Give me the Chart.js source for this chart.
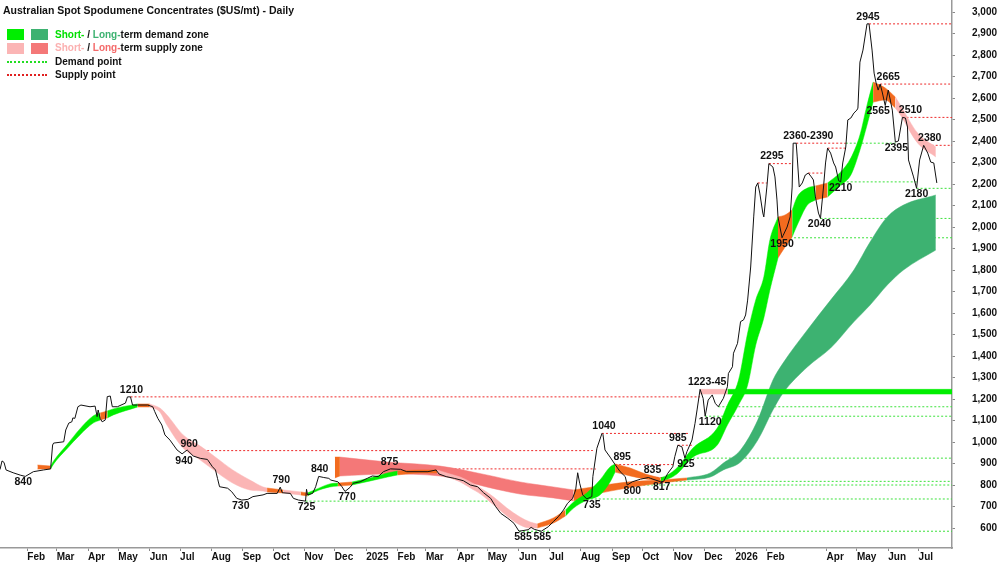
<!DOCTYPE html>
<html>
<head>
<meta charset="utf-8">
<script src="https://cdn.jsdelivr.net/npm/chart.js@4.4.1/dist/chart.umd.min.js"></script>
<style>
  html, body { margin: 0; padding: 0; background: #fff; }
  #wrap { position: relative; width: 1000px; height: 562px; font-family: "Liberation Sans", Arial, sans-serif; color: #111; }
  #chart { position: absolute; left: 0; top: 0; }
  .title { position: absolute; left: 3px; top: 4px; font-weight: bold; font-size: 10.5px; white-space: nowrap; }
  .row { position: absolute; left: 55px; font-weight: bold; font-size: 10px; line-height: 12px; white-space: nowrap; }
  .sw { position: absolute; width: 17px; height: 11px; }
  .dots { position: absolute; left: 7px; width: 40px; height: 0; border-top: 2px dotted; }
</style>
</head>
<body>
<div id="wrap">
  <canvas id="chart" width="1000" height="562"></canvas>
  <div class="title">Australian Spot Spodumene Concentrates ($US/mt) - Daily</div>

  <div class="sw" style="left:7px; top:29px; background:#00ee00"></div>
  <div class="sw" style="left:31px; top:29px; background:#3db271"></div>
  <div class="row" style="top:29px"><span style="color:#00e000">Short-</span> / <span style="color:#3db271">Long-</span>term demand zone</div>

  <div class="sw" style="left:7px; top:43px; background:#fbb5b5"></div>
  <div class="sw" style="left:31px; top:43px; background:#f47878"></div>
  <div class="row" style="top:42px"><span style="color:#fbb0b0">Short-</span> / <span style="color:#f46a6a">Long-</span>term supply zone</div>

  <div class="dots" style="top:61px; border-color:#22dd22"></div>
  <div class="row" style="top:56px">Demand point</div>

  <div class="dots" style="top:74px; border-color:#e02020"></div>
  <div class="row" style="top:69px">Supply point</div>
</div>

<script>
// Axis range and tick labels
const X_START = '2024-01-05';
const X_END   = '2026-08-03';
const Y_MIN = 507, Y_MAX = 3056;
const yTicks = [600, 700, 800, 900, 1000, 1100, 1200, 1300, 1400, 1500, 1600, 1700, 1800,
                1900, 2000, 2100, 2200, 2300, 2400, 2500, 2600, 2700, 2800, 2900, 3000];
const monthTicks = ['2024-02-01','2024-03-01','2024-04-01','2024-05-01','2024-06-01','2024-07-01',
  '2024-08-01','2024-09-01','2024-10-01','2024-11-01','2024-12-01','2025-01-01','2025-02-01',
  '2025-03-01','2025-04-01','2025-05-01','2025-06-01','2025-07-01','2025-08-01','2025-09-01',
  '2025-10-01','2025-11-01','2025-12-01','2026-01-01','2026-02-01','2026-04-01','2026-05-01',
  '2026-06-01','2026-07-01'];
const monthLabels = ['Feb','Mar','Apr','May','Jun','Jul','Aug','Sep','Oct','Nov','Dec','2025','Feb',
  'Mar','Apr','May','Jun','Jul','Aug','Sep','Oct','Nov','Dec','2026','Feb','Apr','May','Jun','Jul'];

// Spot price
const priceDates = ['2024-01-05','2024-01-07','2024-01-09','2024-01-11','2024-01-18','2024-01-25','2024-01-30',
  '2024-02-07','2024-02-17','2024-02-24','2024-02-26','2024-02-27','2024-03-08','2024-03-10','2024-03-13',
  '2024-03-16','2024-03-17','2024-03-19','2024-03-22','2024-03-25','2024-04-03','2024-04-08','2024-04-10',
  '2024-04-11','2024-04-13','2024-04-15','2024-04-18','2024-04-20','2024-04-23','2024-04-25','2024-04-30',
  '2024-05-08','2024-05-10','2024-05-13','2024-05-15','2024-05-30','2024-06-04','2024-06-06','2024-06-09',
  '2024-06-13','2024-06-16','2024-06-21','2024-06-28','2024-07-03','2024-07-08','2024-07-14','2024-07-21',
  '2024-07-28','2024-08-02','2024-08-05','2024-08-07','2024-08-09','2024-08-17','2024-08-21','2024-08-26',
  '2024-08-31','2024-09-06','2024-09-11','2024-09-21','2024-09-25','2024-10-05','2024-10-08','2024-10-10',
  '2024-10-18','2024-10-21','2024-10-26','2024-11-02','2024-11-03','2024-11-04','2024-11-09','2024-11-12',
  '2024-11-15','2024-11-20','2024-11-25','2024-11-27','2024-12-04','2024-12-08','2024-12-11','2024-12-16',
  '2024-12-19','2024-12-26','2025-01-02','2025-01-07','2025-01-13','2025-01-18','2025-01-25','2025-02-04',
  '2025-02-10','2025-03-03','2025-03-11','2025-03-14','2025-03-21','2025-03-29','2025-04-07','2025-04-14',
  '2025-04-21','2025-04-27','2025-05-04','2025-05-09','2025-05-14','2025-05-21','2025-05-27','2025-06-01',
  '2025-06-10','2025-06-13','2025-06-16','2025-06-23','2025-06-30','2025-07-05','2025-07-10','2025-07-15',
  '2025-07-19','2025-07-24','2025-07-27','2025-07-29','2025-07-31','2025-08-03','2025-08-07','2025-08-12',
  '2025-08-13','2025-08-17','2025-08-22','2025-08-23','2025-08-25','2025-08-30','2025-09-04','2025-09-09',
  '2025-09-14','2025-09-16','2025-09-21','2025-09-29','2025-10-07','2025-10-09','2025-10-19','2025-10-22',
  '2025-10-26','2025-10-31','2025-11-02','2025-11-05','2025-11-09','2025-11-12','2025-11-14','2025-11-19',
  '2025-11-22','2025-11-24','2025-11-27','2025-11-30','2025-12-02','2025-12-05','2025-12-09','2025-12-12',
  '2025-12-15','2025-12-20','2025-12-24','2025-12-25','2025-12-29','2025-12-30','2026-01-03','2026-01-06',
  '2026-01-09','2026-01-11','2026-01-13','2026-01-16','2026-01-19','2026-01-21','2026-01-23','2026-01-25',
  '2026-01-28','2026-01-29','2026-02-01','2026-02-03','2026-02-07','2026-02-09','2026-02-11','2026-02-12',
  '2026-02-16','2026-02-17','2026-02-21','2026-02-24','2026-02-26','2026-02-27','2026-03-02','2026-03-03',
  '2026-03-05','2026-03-08','2026-03-11','2026-03-14','2026-03-17','2026-03-19','2026-03-21','2026-03-24',
  '2026-03-26','2026-03-29','2026-03-31','2026-04-02','2026-04-05','2026-04-08','2026-04-10','2026-04-13',
  '2026-04-15','2026-04-17','2026-04-20','2026-04-22','2026-04-25','2026-04-28','2026-05-01','2026-05-02',
  '2026-05-04','2026-05-07','2026-05-11','2026-05-13','2026-05-16','2026-05-18','2026-05-20','2026-05-22',
  '2026-05-24','2026-05-26','2026-05-29','2026-06-01','2026-06-05','2026-06-08','2026-06-11','2026-06-15',
  '2026-06-18','2026-06-20','2026-06-21','2026-06-26','2026-06-29','2026-07-02','2026-07-06','2026-07-10',
  '2026-07-13','2026-07-16','2026-07-19'];
const priceValues = [872,912,905,870,857,846,840,
  862,870,875,986,995,1001,1056,1088,
  1094,1112,1110,1164,1172,1164,1167,1118,
  1149,1110,1094,1102,1211,1214,1164,1164,
  1181,1210,1210,1172,1172,1164,1141,1110,
  1079,1033,1009,963,945,963,935,924,
  919,885,870,831,792,785,769,738,
  730,733,746,754,761,761,790,764,
  761,738,730,725,780,754,761,792,
  840,835,831,823,815,792,770,789,
  808,815,831,842,839,862,875,873,
  862,862,870,851,839,831,820,800,
  792,764,738,699,668,645,622,585,
  592,603,594,585,606,630,653,684,
  715,738,777,857,808,754,735,746,
  839,971,1040,1035,963,930,895,862,
  839,800,815,827,835,831,815,817,
  854,885,932,985,978,925,955,1009,
  1087,1149,1245,1203,1120,1195,1219,1180,
  1164,1203,1257,1319,1350,1413,1459,1560,
  1568,1591,1660,1814,2047,2186,2205,2158,
  2065,2047,2186,2295,2279,2233,2126,2047,
  1950,1960,2000,2047,2186,2390,2390,2326,
  2186,2205,2242,2251,2233,2219,2140,2065,
  2040,2186,2298,2367,2344,2298,2279,2215,
  2210,2298,2372,2498,2507,2530,2544,2553,
  2767,2823,2945,2945,2823,2716,2670,2637,
  2665,2628,2565,2637,2544,2395,2400,2510,
  2507,2465,2312,2233,2180,2312,2380,2344,
  2302,2298,2205];

// Short-term zone (kind applies from this point to the next one)
// D = demand, S = supply, O = overlap
const stDates = ['2024-02-11','2024-02-24','2024-02-27','2024-03-11','2024-03-24','2024-04-06','2024-04-13',
  '2024-04-20','2024-04-26','2024-05-20','2024-06-01','2024-06-11','2024-06-18','2024-07-04','2024-07-21',
  '2024-08-06','2024-08-22','2024-09-08','2024-09-21','2024-09-25','2024-10-11','2024-10-28','2024-11-04',
  '2024-11-11','2024-11-26','2024-12-04','2024-12-18','2025-01-05','2025-01-22','2025-02-01','2025-02-23',
  '2025-03-12','2025-03-25','2025-04-04','2025-04-14','2025-04-24','2025-05-07','2025-05-20','2025-06-02',
  '2025-06-12','2025-06-19','2025-07-05','2025-07-17','2025-07-25','2025-08-07','2025-08-20','2025-08-30',
  '2025-09-04','2025-09-19','2025-10-04','2025-10-19','2025-10-26','2025-11-04','2025-11-20','2025-12-14',
  '2025-12-24','2026-01-04','2026-01-13','2026-01-21','2026-01-29','2026-02-04','2026-02-12','2026-02-19',
  '2026-02-26','2026-03-03','2026-03-13','2026-03-21','2026-04-02','2026-04-15','2026-04-25','2026-05-04',
  '2026-05-11','2026-05-17','2026-05-29','2026-06-08','2026-06-13','2026-06-30','2026-07-18'];
const stHigh = [893,888,912,986,1061,1121,1135,
  1144,1154,1177,1177,1158,1126,1033,981,
  926,870,823,791,786,777,768,763,
  777,805,809,814,833,856,865,870,
  870,851,837,814,786,744,693,651,
  628,619,647,684,721,763,823,884,
  898,879,851,833,847,879,972,1065,
  1172,1288,1507,1661,1768,1940,2047,2056,
  2079,2140,2181,2191,2205,2256,2321,2428,
  2567,2674,2647,2605,2567,2437,2372];
const stLow = [874,874,898,968,1033,1088,1102,
  1112,1126,1163,1163,1140,1079,972,916,
  860,809,777,772,768,763,754,749,
  768,791,795,800,819,837,847,856,
  856,833,814,786,758,707,656,614,
  600,600,623,656,693,730,754,814,
  860,842,828,819,828,851,930,986,
  1079,1172,1265,1451,1577,1707,1856,1907,
  1954,2009,2102,2126,2140,2195,2242,2358,
  2474,2581,2591,2554,2521,2391,2326];
const stKind = ['O','D','D','D','D','D','O',
  'D','D','O','S','S','S','S','S',
  'S','S','S','S','O','S','O','D',
  'D','D','O','D','D','D','O','O',
  'S','S','S','S','S','S','S','S',
  'S','O','O','D','D','D','D','D',
  'O','O','O','D','D','D','D','D',
  'D','D','D','D','D','D','O','O',
  'D','D','D','O','D','D','D','D',
  'D','O','O','S','S','S',''];

// Long-term zone: L = supply, G = demand, O = overlap
const ltDates = ['2024-12-01','2024-12-06','2025-01-22','2025-03-15','2025-04-30','2025-06-02','2025-07-05',
  '2025-07-25','2025-08-13','2025-09-16','2025-10-19','2025-11-14','2025-12-07','2025-12-20','2026-01-06',
  '2026-01-23','2026-02-07','2026-02-17','2026-03-13','2026-04-05','2026-04-28','2026-05-14','2026-05-31',
  '2026-06-16','2026-07-18'];
const ltHigh = [930,930,907,888,847,814,791,777,791,814,823,833,856,902,963,
  1102,1288,1367,1521,1660,1800,1930,2047,2102,2149];
const ltLow = [833,842,851,842,791,758,740,726,754,786,809,823,837,870,907,
  1009,1149,1228,1349,1437,1559,1637,1730,1800,1893];
const ltKind = ['O','L','L','L','L','L','L','O','O','O','O','G','G','G','G',
  'G','G','G','G','G','G','G','G','G',''];

// Horizontal zones (1223-45)
const zoneFrom = ['2025-11-27','2025-12-24'];
const zoneTo   = ['2025-12-24', X_END];
const zoneLow  = [1223, 1223];
const zoneHigh = [1245, 1245];
const zoneKind = ['S','D'];

// Supply points (red dotted)
const supplyLevels = [1210,960,875,1040,895,985,835,2205,2295,2390,2367,2251,2945,2665,2510,2380];
const supplyFrom = ['2024-05-13','2024-07-08','2025-01-25','2025-08-22','2025-09-04','2025-11-05','2025-10-07',
  '2026-01-23','2026-02-03','2026-03-02','2026-04-02','2026-03-14','2026-05-13','2026-05-24','2026-06-15','2026-07-06'];
const supplyTo = ['2025-11-27','2025-08-13','2025-08-16','2025-11-17','2025-10-31','2025-11-19','2025-10-26',
  '2026-02-01','2026-02-26','2026-04-20','2026-04-20','2026-03-29',X_END,X_END,X_END,X_END];

// Demand points (green dotted)
const demandLevels = [725,585,735,800,817,925,1120,1164,1950,2040,2210,2180,2390];
const demandFrom = ['2024-11-02','2025-06-01','2025-08-07','2025-09-16','2025-10-22','2025-11-12','2025-12-02',
  '2025-12-15','2026-02-16','2026-03-26','2026-04-13','2026-06-29','2026-04-20'];
const demandTo = ['2025-05-04',X_END,X_END,X_END,X_END,X_END,X_END,X_END,X_END,X_END,'2026-06-29',X_END,'2026-06-08'];

// Annotations
const labelTexts = ['840','1210','960','940','730','790','725','840','770','875','585','585','735','1040','895',
  '800','835','817','985','925','1223-45','1120','2295','1950','2360-2390','2040','2210','2945','2665','2565',
  '2510','2395','2380','2180'];
const labelDates = ['2024-01-28','2024-05-14','2024-07-10','2024-07-05','2024-08-30','2024-10-09','2024-11-03',
  '2024-11-16','2024-12-13','2025-01-24','2025-06-05','2025-06-24','2025-08-12','2025-08-24','2025-09-11',
  '2025-09-21','2025-10-11','2025-10-20','2025-11-05','2025-11-13','2025-12-04','2025-12-07','2026-02-06',
  '2026-02-16','2026-03-14','2026-03-25','2026-04-15','2026-05-12','2026-06-01','2026-05-22','2026-06-23',
  '2026-06-09','2026-07-12','2026-06-29'];
const labelValues = [840,1210,960,940,730,790,725,840,770,875,585,585,735,1040,895,
  800,835,817,985,925,1245,1120,2295,1950,2390,2040,2210,2945,2665,2565,
  2510,2395,2380,2180];
const labelSide = ['dn','up','up','dn','dn','up','dn','up','dn','up','dn','dn','dn','up','up',
  'dn','up','dn','up','dn','up','dn','up','dn','up','dn','dn','up','up','dn',
  'up','dn','up','dn'];

const ZONE = { D: '#00ee00', S: '#fbb5b5', O: '#f26b1f', L: '#f47878', G: '#3db271' };
const FONT = '"Liberation Sans", Arial, sans-serif';

function dayOf(s) {
  const [y, m, d] = s.split('-').map(Number);
  return (Date.UTC(y, m - 1, d) - Date.UTC(2024, 0, 1)) / 864e5;
}

const datasets = [];

// price on top
datasets.push({
  data: priceDates.map((d, i) => ({ x: dayOf(d), y: priceValues[i] })),
  borderColor: '#111', borderWidth: 1, pointRadius: 0, tension: 0, fill: false, order: 0,
});

function addBand(dates, high, low, kind, order) {
  let i = 0;
  while (i < dates.length - 1) {
    const k = kind[i];
    let j = i;
    while (j < dates.length - 1 && kind[j] === k) j++;
    const lo = [], hi = [];
    for (let n = i; n <= j; n++) {
      lo.push({ x: dayOf(dates[n]), y: low[n] });
      hi.push({ x: dayOf(dates[n]), y: high[n] });
    }
    const c = ZONE[k];
    datasets.push({ data: lo, borderColor: c, borderWidth: 0.5, pointRadius: 0, fill: false,
      cubicInterpolationMode: 'monotone', order });
    datasets.push({ data: hi, borderColor: c, borderWidth: 0.5, pointRadius: 0, fill: '-1',
      backgroundColor: c, cubicInterpolationMode: 'monotone', order });
    i = j;
  }
}

function addLevels(levels, from, to, color) {
  levels.forEach((v, i) => {
    datasets.push({
      data: [{ x: dayOf(from[i]), y: v }, { x: dayOf(to[i]), y: v }],
      borderColor: color, borderWidth: 1, borderDash: [2, 2], pointRadius: 0, fill: false, order: 50,
    });
  });
}

addLevels(supplyLevels, supplyFrom, supplyTo, '#ee2a2a');
addLevels(demandLevels, demandFrom, demandTo, '#3ce23c');
addBand(ltDates, ltHigh, ltLow, ltKind, 40);
zoneFrom.forEach((d, i) => {
  const c = ZONE[zoneKind[i]];
  datasets.push({ data: [{ x: dayOf(d), y: zoneLow[i] }, { x: dayOf(zoneTo[i]), y: zoneLow[i] }],
    borderColor: c, borderWidth: 0.5, pointRadius: 0, fill: false, order: 35 });
  datasets.push({ data: [{ x: dayOf(d), y: zoneHigh[i] }, { x: dayOf(zoneTo[i]), y: zoneHigh[i] }],
    borderColor: c, borderWidth: 0.5, pointRadius: 0, fill: '-1', backgroundColor: c, order: 35 });
});
addBand(stDates, stHigh, stLow, stKind, 30);

const labelPlugin = {
  id: 'pointLabels',
  afterDatasetsDraw(chart) {
    const { ctx, scales: { x, y } } = chart;
    ctx.save();
    ctx.font = 'bold 10.5px ' + FONT;
    ctx.fillStyle = '#111';
    ctx.textAlign = 'center';
    ctx.textBaseline = 'middle';
    labelTexts.forEach((t, i) => {
      const px = x.getPixelForValue(dayOf(labelDates[i]));
      const py = y.getPixelForValue(labelValues[i]) + (labelSide[i] === 'up' ? -7 : 6);
      ctx.fillText(t, px, py);
    });
    ctx.restore();
  },
};

new Chart(document.getElementById('chart'), {
  type: 'line',
  data: { datasets },
  plugins: [labelPlugin],
  options: {
    responsive: false,
    animation: false,
    devicePixelRatio: 1,
    layout: { padding: { left: 0, right: 3, top: 0, bottom: 0 } },
    plugins: { legend: { display: false }, tooltip: { enabled: false } },
    scales: {
      x: {
        type: 'linear',
        min: dayOf(X_START),
        max: dayOf(X_END),
        grid: { drawOnChartArea: false, tickLength: 3, color: '#888' },
        border: { color: '#999', width: 1.5 },
        ticks: {
          autoSkip: false, maxRotation: 0, align: 'start', padding: 0, color: '#111',
          font: { family: FONT, size: 10, weight: 'bold' },
          callback: (v, i) => monthLabels[i],
        },
        afterBuildTicks: (s) => { s.ticks = monthTicks.map((d) => ({ value: dayOf(d) })); },
        afterFit: (s) => { s.height = 14; s.paddingLeft = 0; s.paddingRight = 0; },
      },
      y: {
        position: 'right',
        min: Y_MIN,
        max: Y_MAX,
        grid: { drawOnChartArea: false, tickLength: 3, color: '#888' },
        border: { color: '#999', width: 1.5 },
        ticks: {
          crossAlign: 'far', padding: 0, color: '#111',
          font: { family: FONT, size: 10, weight: 'bold' },
          callback: (v) => Number(v).toLocaleString('en-US'),
        },
        afterBuildTicks: (s) => { s.ticks = yTicks.map((v) => ({ value: v })); },
        afterFit: (s) => { s.width = 45; s.paddingTop = 0; s.paddingBottom = 0; },
      },
    },
  },
});
</script>
</body>
</html>
